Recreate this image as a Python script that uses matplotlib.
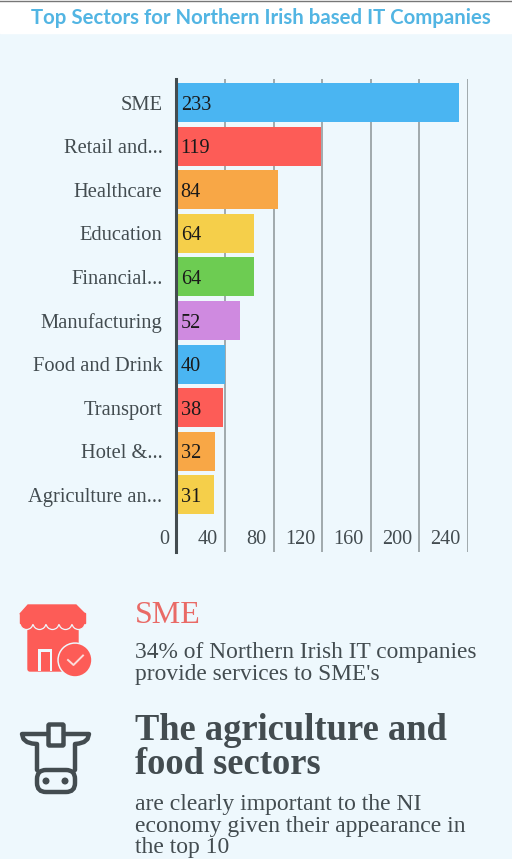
import matplotlib
matplotlib.use("Agg")
import matplotlib.pyplot as plt
from matplotlib.patches import Rectangle, Polygon, Circle, FancyBboxPatch
from matplotlib.lines import Line2D

SECTORS = ["SME", "Retail and...", "Healthcare", "Education", "Financial...",
           "Manufacturing", "Food and Drink", "Transport", "Hotel &...", "Agriculture an..."]
COUNTS = [233, 119, 84, 64, 64, 52, 40, 38, 32, 31]
BAR_COLORS = ["#4ab5f2", "#fd5c57", "#f8a746", "#f5cf4a", "#6dcc52",
              "#cf8ae0", "#4ab5f2", "#fd5c57", "#f8a746", "#f5cf4a"]
XTICKS = [0, 40, 80, 120, 160, 200, 240]

BG = "#eef8fd"
DARK = "#434c50"
RED = "#fd5c57"
SERIF = "Liberation Serif"
W, H = 512, 859


def add_axes_px(fig, left, top, right, bottom):
    return fig.add_axes([left / W, 1 - bottom / H, (right - left) / W, (bottom - top) / H])


def draw_chart(fig):
    ax = add_axes_px(fig, 176.5, 79, 467.5, 552)
    ax.set_facecolor("none")
    ax.set_xlim(0, 240)
    ax.set_ylim(10.31, -0.54)
    ax.xaxis.grid(True, color="#9aa3a6", linewidth=1.3)
    ax.set_axisbelow(True)
    ax.barh(range(len(COUNTS)), COUNTS, height=0.895, color=BAR_COLORS, clip_on=False, zorder=2)
    for i, v in enumerate(COUNTS):
        ax.annotate(str(v), (0, i), xytext=(3, 0), textcoords="offset points", va="center_baseline",
                    ha="left", family=SERIF, fontsize=14.6, color="#1a1a1a", zorder=3)
    for s in ["top", "right", "bottom"]:
        ax.spines[s].set_visible(False)
    ax.spines["left"].set_color(DARK)
    ax.spines["left"].set_linewidth(2.2)
    ax.spines["left"].set_zorder(4)
    ax.spines["left"].set_position(("outward", 0.6))
    ax.set_yticks(range(len(SECTORS)))
    ax.set_yticklabels(SECTORS, family=SERIF, fontsize=14.8, color=DARK)
    ax.tick_params(axis="y", length=0, pad=9.5)
    ax.set_xticks(XTICKS)
    ax.set_xticklabels([])
    ax.tick_params(axis="x", length=0)
    # tick labels sit just left of their gridline, inside the plot
    for t in XTICKS:
        ax.annotate(str(t), (t, 0), xycoords=("data", "axes fraction"), xytext=(-5, 6),
                    textcoords="offset points", va="baseline", ha="right",
                    family=SERIF, fontsize=14.6, color=DARK)


def draw_icons(fig):
    ov = fig.add_axes([0, 0, 1, 1])
    ov.set_xlim(0, W)
    ov.set_ylim(H, 0)
    ov.axis("off")
    ov.patch.set_alpha(0)
    # shop
    ov.add_patch(FancyBboxPatch((28, 622), 50, 49, boxstyle="round,pad=0,rounding_size=2", color=RED))
    for i in range(5):
        x0 = 20 + i * 13
        ov.add_patch(Circle((x0 + 6.5, 623), 6.5, facecolor=RED, edgecolor=BG, lw=0.9))
    for i in range(5):
        x0 = 20 + i * 13
        ov.add_patch(Rectangle((x0 + 0.1, 613), 12.8, 10, color=RED))
    ov.add_patch(Polygon([[28, 605], [76, 605], [85, 614], [20, 614]], closed=True, color=RED))
    ov.add_patch(Rectangle((38, 649), 14, 22, facecolor=BG, edgecolor="none"))
    ov.add_patch(Rectangle((40.5, 651.5), 9, 19.5, facecolor=RED, edgecolor="none"))
    ov.add_patch(Circle((75, 660), 17, color=BG))
    ov.add_patch(Circle((75, 660), 15.5, color=RED))
    ov.add_line(Line2D([68, 73.5, 83], [660, 665, 655.5], color="#fbdcdb", lw=1.4))
    # cow
    c = dict(color=DARK, lw=3.2, solid_capstyle="round", solid_joinstyle="round")
    ov.add_patch(FancyBboxPatch((48.5, 724.5), 15, 21, boxstyle="round,pad=0,rounding_size=1",
                                facecolor="none", edgecolor=DARK, lw=3.2))
    ov.add_line(Line2D([48, 22, 23.5, 27, 32, 37, 37], [734, 734, 739, 742, 743.5, 744, 770], **c))
    ov.add_line(Line2D([64, 89, 87.5, 84, 79, 75, 75], [734, 734, 739, 742, 743.5, 744, 770], **c))
    ov.add_patch(FancyBboxPatch((37, 770), 38, 22, boxstyle="round,pad=0,rounding_size=9",
                                facecolor="none", edgecolor=DARK, lw=3.2))
    ov.add_patch(Circle((46, 781), 2.8, color=DARK))
    ov.add_patch(Circle((65, 781), 2.8, color=DARK))
    return ov


def draw_text(ov):
    ov.add_patch(Rectangle((0, 0), W, 33, color="white", zorder=0))
    ov.add_line(Line2D([0, W], [0.5, 0.5], color="#777777", lw=1))
    ov.text(260.5, 18, "Top Sectors for Northern Irish based IT Companies", ha="center", va="center",
            family="Lato", weight="bold", fontsize=14.7, color="#52b5e3")
    ov.text(135, 623, "SME", family=SERIF, fontsize=23, color="#e96a66", va="baseline")
    body = dict(family=SERIF, fontsize=16.8, color=DARK, va="baseline")
    ov.text(135, 658, "34% of Northern Irish IT companies", **body)
    ov.text(135, 680, "provide services to SME's", **body)
    head = dict(family=SERIF, fontsize=26.3, weight="bold", color=DARK, va="baseline")
    ov.text(135, 739.5, "The agriculture and", **head)
    ov.text(135, 773.5, "food sectors", **head)
    body["fontsize"] = 17
    ov.text(135, 810, "are clearly important to the NI", **body)
    ov.text(135, 832, "economy given their appearance in", **body)
    ov.text(135, 853, "the top 10", **body)


def main():
    fig = plt.figure(figsize=(W / 100, H / 100), dpi=100, facecolor=BG)
    draw_chart(fig)
    ov = draw_icons(fig)
    draw_text(ov)
    fig.savefig("out.png", dpi=100, facecolor=BG)


if __name__ == '__main__':
    main()
